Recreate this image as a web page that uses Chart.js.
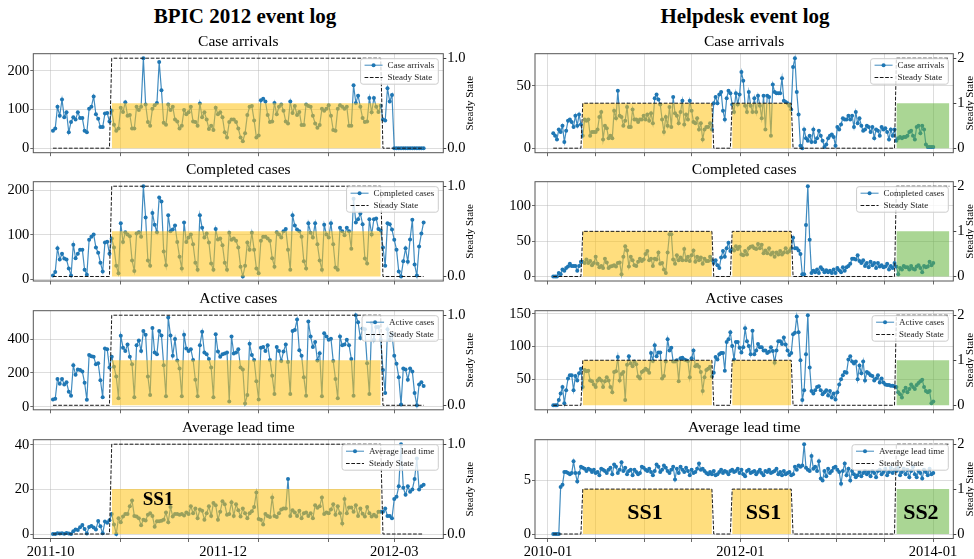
<!DOCTYPE html>
<html>
<head>
<meta charset="utf-8">
<script src="https://cdn.jsdelivr.net/npm/chart.js@4.4.1/dist/chart.umd.min.js"></script>
<style>
  body { margin: 0; background: #fff; width: 974px; height: 559px; position: relative; overflow: hidden;
         font-family: "Liberation Serif", "Times New Roman", serif; }
  canvas { position: absolute; }
  .hdr, .ttl { position: absolute; transform: translate(-50%, -50%); white-space: nowrap; line-height: 1; color: #000; z-index: 2; }
  .hdr { font-size: 21px; font-weight: bold; }
  .ttl { font-size: 15.5px; }
</style>
</head>
<body>
<div class="hdr" style="left:245px;top:16px">BPIC 2012 event log</div>
<div class="hdr" style="left:745px;top:16px">Helpdesk event log</div>
<script>
// ---- BPIC 2012: daily values, first point 2011-10-02 (day 1, day 0 = 2011-10-01) ----
const bpicFirstDay = 1;
const bpicStep = 1;

const bpicArrivals = [
  45, 51, 107, 84, 126, 80, 93, 41, 68, 80, 74, 93, 78, 78, 45, 41, 102, 107, 134, 88, 76, 55, 55, 90, 91, 69,
  97, 61, 45, 51, 105, 94, 119, 84, 86, 51,
  51, 107, 99, 107, 233, 113, 68, 58, 102, 111,
  117, 223, 150, 66, 61, 113, 99, 107, 74, 69,
  51, 58, 99, 88, 93, 107, 69, 68, 58, 116,
  80, 93, 74, 50, 58, 47, 105, 88, 93, 80,
  41, 28, 68, 74, 74, 68, 51, 28, 18, 39,
  86, 107, 109, 72, 28, 33, 124, 128, 121, 86,
  68, 69, 117, 88, 107, 113, 97, 69, 64, 121,
  91, 109, 86, 94, 60, 60, 113, 109, 107, 84,
  64, 53, 60, 102, 97, 102, 111, 84, 47, 45,
  102, 111, 107, 102, 107, 58, 58, 163, 117, 136,
  107, 78, 68, 69, 130, 93, 130, 107, 94, 110,
  74, 72, 155, 121, 138, 0, 0, 0, 0, 0, 0, 0, 0, 0, 0, 0, 0, 0, 0
];

const bpicCompleted = [
  9, 17, 70, 45, 58, 47, 45, 25, 9, 78, 48, 58, 67, 67, 22, 11, 89, 96, 101, 72, 60, 38, 18, 83, 85, 58,
  92, 72, 31, 14, 126, 84, 106, 101, 97, 43,
  19, 103, 106, 96, 209, 139, 43, 31, 149, 123,
  106, 184, 175, 63, 32, 144, 108, 112, 121, 84,
  51, 25, 128, 84, 94, 101, 79, 38, 22, 144,
  116, 94, 103, 83, 36, 22, 113, 90, 92, 77,
  38, 22, 105, 89, 92, 87, 72, 29, 7, 31,
  83, 67, 105, 67, 25, 14, 87, 96, 96, 92,
  87, 48, 29, 106, 101, 94, 108, 113, 67, 22,
  144, 121, 112, 108, 96, 41, 25, 126, 105, 94,
  126, 79, 43, 22, 123, 101, 94, 126, 79, 27,
  22, 116, 108, 99, 116, 108, 69, 181, 128, 135,
  148, 124, 47, 36, 135, 101, 135, 137, 113, 110,
  72, 31, 126, 124, 112, 89, 67, 18, 7, 41, 70, 40, 90, 134, 34, 9, 74, 103, 128
];

const bpicActive = [
  43, 47, 164, 136, 164, 132, 145, 89, 66, 245, 189, 221, 217, 208, 142, 42, 306, 298, 296, 251, 258, 157, 57, 345, 340, 232,
  296, 236, 179, 51, 419, 349, 330, 368, 296, 251,
  57, 364, 391, 330, 447, 425, 179, 70, 466, 321,
  311, 447, 421, 245, 62, 528, 421, 302, 400, 274,
  226, 62, 425, 345, 330, 340, 277, 160, 62, 364,
  443, 321, 311, 283, 232, 57, 428, 326, 296, 311,
  315, 321, 32, 415, 315, 321, 340, 232, 221, 19,
  70, 372, 306, 277, 151, 43, 349, 353, 330, 364,
  277, 183, 75, 353, 330, 270, 326, 368, 264, 75,
  447, 453, 515, 334, 302, 175, 66, 504, 415, 353,
  383, 274, 317, 62, 434, 415, 396, 402, 270, 164,
  51, 415, 364, 368, 396, 364, 283, 66, 541, 500,
  406, 462, 458, 258, 75, 496, 396, 472, 472, 396,
  217, 81, 458, 396, 428, 302, 255, 175, 13, 226, 221, 160, 226, 208, 81, 9, 132, 145, 123
];

const bpicLeadTime = [
  0, 0, 0.3, 0.2, 0.3, 0.1, 0.4, 0.2, 0, 1.2, 2, 1.8, 3, 4, 2.2, 0.2, 3.2, 3.6, 2.9, 2, 5.8, 3.5, 0.3, 5.6, 5, 6.2,
  9, 4.3, 0, 7.1, 5.3, 7.9, 9, 9, 12.4, 15,
  8.1, 7.9, 7.1, 3.9, 6.4, 6.1, 8.6, 9.3, 8.1, 3.3,
  5.7, 5.7, 6, 6.4, 9.6, 5.3, 12.1, 7.9, 9, 9,
  8.6, 9, 8.3, 9.6, 9, 12.4, 9.3, 11.4, 7.1, 11,
  10.4, 6.4, 9.3, 12.4, 8.1, 13.9, 12.9, 6.4, 10, 14.7,
  13.3, 8.6, 9, 14.3, 8.1, 13.3, 10.7, 7.9, 11.4, 9.3,
  7.1, 9.3, 10.2, 12.1, 18.6, 6.7, 6.4, 4.3, 9, 8.1,
  7.6, 16.4, 8.1, 7.6, 9.3, 11, 11.4, 11.4, 24.7, 8.1,
  10.7, 9.6, 8.1, 10.4, 7.1, 9.3, 9.6, 8.1, 9.3, 7.1,
  12.9, 11.8, 12.4, 16.4, 9, 9.6, 9.3, 11, 13.3, 8.6,
  12.4, 9.3, 4.7, 15.7, 9.3, 11.9, 11.9, 10, 12.9, 8.1,
  11.4, 9.1, 7.9, 12.1, 9.3, 7.9, 8.6, 7.9, 10, 10,
  10, 11.4, 8.1, 8.1, 7.1, 15.7, 16.7, 21.4, 40.3, 20.7, 17.6, 21.4, 19, 20, 24.7, 33.9, 20, 21.4, 22.1
];

// steady-state periods (day numbers) and level
const bpicSsFrom = [27];
const bpicSsTo = [146];
const bpicSsLevel = [1];
const bpicSsColor = ['ss1'];
const bpicSsLabelDay = [47.5];
const bpicSsLabelLevel = [0.38];
const bpicSsLabelText = ['SS1'];

// month gridlines and bottom labels
const bpicGridDays = [0, 31, 61, 92, 123, 152];
const bpicLabelDays = [0, 76.3, 152];
const bpicLabelText = ['2011-10', '2011-12', '2012-03'];

// ---- Helpdesk: weekly values, first point day 20 (day 0 = 2010-01-01) ----
const helpFirstDay = 20;
const helpStep = 7;

const helpArrivals = [
  12, 10, 7, 15, 13, 18, 5, 14, 22, 23, 21, 17, 26, 18, 27, 19,
  10, 23, 22, 23, 10, 13, 13, 13, 15, 25,
  29, 7, 18, 16, 8, 10, 8, 30, 24, 46,
  26, 25, 18, 22, 33, 17, 17, 31, 23, 23,
  21, 23, 23, 26, 23, 27, 22, 28, 20, 40,
  43, 39, 35, 23, 13, 25, 18, 33, 17, 41,
  28, 26, 20, 29, 38, 19, 27, 23, 38, 30,
  21, 20, 24, 15, 20, 7, 15, 17, 17, 20,
  15,
  36, 41, 36, 43, 45, 30, 23, 40, 46, 44,
  35, 29, 44, 35, 43, 61, 54, 34, 29, 45,
  34, 29, 40, 29, 42, 34, 24, 42, 15, 42,
  41, 10, 51, 45, 44, 44, 44, 56, 38, 37,
  36, 34, 31,
  65, 72, 45, 27, 2, 0, 15, 8, 6, 10,
  5, 15, 5, 8, 14, 10, 6, 1, 3, 8,
  10, 11, 9, 2, 17, 15, 19, 24, 23, 23,
  26, 23, 26, 17, 29, 20, 24, 18, 14, 15,
  18, 17, 13, 17, 8, 15, 14, 10, 17, 15,
  16, 13, 7, 15, 10, 15,
  6, 8, 9, 8, 9, 9, 10, 13, 14, 10,
  7, 17, 18, 12, 18, 15, 3, 1, 1, 1, 1
];

const helpCompleted = [
  0, 0, 0, 5, 3, 10, 8, 12, 14, 18, 15, 15, 15, 8, 15, 21,
  21, 19, 24, 19, 22, 16, 19, 28, 18, 13,
  15, 12, 25, 20, 12, 14, 15, 16, 14, 19,
  20, 3, 28, 43, 37, 14, 28, 23, 16, 15,
  21, 25, 22, 24, 32, 36, 23, 25, 15, 25,
  24, 34, 18, 19, 10, 5, 34, 60, 60, 24,
  18, 30, 23, 27, 23, 39, 23, 28, 22, 30,
  37, 21, 28, 23, 27, 18, 25, 22, 22, 28,
  23,
  19, 23, 16, 12, 27, 36, 28, 40, 48, 36,
  39, 37, 43, 39, 42, 31, 30, 36, 31, 40,
  42, 43, 40, 39, 46, 40, 45, 33, 37, 33,
  40, 31, 34, 28, 34, 31, 36, 31, 34, 40,
  34, 36, 40,
  55, 40, 40, 37, 32, 3, 3, 73, 128, 52,
  5, 8, 6, 10, 5, 13, 10, 6, 9, 6,
  8, 5, 10, 5, 12, 9, 6, 13, 8, 13,
  15, 18, 25, 25, 24, 30, 22, 19, 23, 15,
  19, 13, 21, 16, 19, 12, 19, 14, 16, 13,
  14, 18, 10, 15, 12, 19,
  14, 3, 12, 10, 15, 13, 13, 10, 15, 11,
  10, 14, 16, 12, 6, 15, 13, 14, 21, 16, 19
];

const helpActive = [
  10, 10, 10, 18, 28, 38, 13, 33, 51, 56, 56, 33, 55, 48, 59, 66,
  38, 64, 62, 63, 48, 47, 42, 38, 48, 51,
  48, 38, 47, 53, 48, 38, 30, 61, 62, 84,
  48, 58, 61, 18, 72, 85, 74, 70, 77, 73,
  54, 51, 61, 63, 66, 64, 60, 90, 78, 102,
  85, 91, 91, 51, 55, 77, 111, 94, 98, 77,
  77, 79, 47, 82, 83, 80, 79, 78, 53, 82,
  94, 70, 72, 69, 61, 32, 53, 64, 66, 69,
  54,
  60, 84, 80, 88, 90, 90, 63, 107, 111, 122,
  101, 80, 107, 107, 98, 91, 99, 128, 108, 101,
  88, 124, 88, 94, 104, 99, 99, 94, 94, 90,
  92, 99, 93, 75, 94, 108, 108, 104, 114, 103,
  94, 87, 90,
  119, 121, 146, 122, 79, 18, 33, 88, 148, 68,
  32, 28, 33, 38, 39, 33, 27, 30, 33, 25,
  32, 22, 28, 19, 30, 42, 50, 56, 61, 60,
  80, 85, 77, 74, 77, 50, 71, 59, 77, 48,
  61, 59, 56, 55, 48, 51, 56, 45, 51, 45,
  42, 41, 41, 40, 40, 39,
  38, 30, 27, 22, 32, 37, 30, 35, 42, 38,
  35, 41, 44, 47, 49, 38, 32, 30, 32, 13, 16
];

const helpLeadTime = [
  0, 0, 0, 0, 4.4, 4.6, 5.8, 5.8, 5.7, 5.6, 5.7, 6.8, 5.7, 4.9, 5.7, 6.3,
  6.2, 6.1, 5.9, 6.1, 6.0, 5.8, 6.0, 5.7, 5.8, 5.5,
  6.1, 6.0, 5.9, 5.7, 6.0, 6.2, 5.6, 6.5, 6.3, 5.7,
  6.0, 6.7, 5.9, 6.2, 5.6, 5.9, 6.0, 5.5, 6.0, 5.8,
  5.6, 5.7, 6.3, 6.2, 6.0, 5.9, 6.1, 5.8, 5.5, 5.9,
  6.5, 6.3, 5.8, 6.0, 6.4, 6.2, 5.9, 5.7, 6.0, 6.3,
  5.1, 6.1, 5.7, 6.3, 6.0, 5.8, 6.2, 5.9, 5.5, 6.0,
  5.7, 5.8, 6.1, 6.6, 6.0, 6.1, 5.9, 5.7, 5.6, 5.8,
  5.6,
  5.9, 5.5, 5.6, 5.8, 6.0, 5.7, 5.9, 5.8, 5.6, 5.9,
  6.0, 5.8, 5.9, 6.1, 5.7, 6.0, 5.6, 5.4, 5.9, 6.0,
  5.7, 5.8, 5.9, 5.6, 5.8, 6.0, 5.7, 5.5, 5.9, 5.8,
  6.0, 5.7, 5.8, 5.9, 6.1, 5.6, 5.8, 5.5, 5.9, 5.6,
  5.7, 5.8, 5.5,
  5.6, 6.3, 6.0, 6.4, 6.3, 6.4, 8.4, 6.2, 6.0, 5.9,
  7.3, 6.1, 6.3, 5.9, 6.8, 5.2, 5.0, 5.9, 5.4, 6.1,
  5.7, 5.9, 6.2, 6.3, 6.0, 5.8, 4.7, 5.9, 6.6, 5.5,
  6.1, 5.0, 5.9, 5.6, 5.3, 5.5, 5.8, 5.4, 5.7, 5.9,
  5.6, 5.8, 5.4, 5.9, 5.7, 5.3, 5.9, 6.0, 5.6, 5.8,
  6.1, 5.5, 5.8, 6.2, 5.7, 6.0,
  5.9, 6.2, 5.5, 5.8, 6.1, 5.6, 6.0, 5.3, 5.9, 6.3,
  5.6, 5.3, 5.9, 5.7, 5.2, 6.0, 5.8, 5.5, 6.1, 5.6, 5.7
];

const helpSsFrom = [132, 699, 1322];
const helpSsTo = [622, 923, 1523];
const helpSsLevel = [1, 1, 2];
const helpSsColor = ['ss1', 'ss1', 'ss2'];
const helpSsLabelDay = [368, 818, 1415];
const helpSsLabelLevel = [0.46, 0.46, 0.46];
const helpSsLabelText = ['SS1', 'SS1', 'SS2'];

// half-year gridlines and bottom labels
const helpGridDays = [0, 181, 365, 546, 730, 912, 1096, 1277, 1461];
const helpLabelDays = [0, 730, 1461];
const helpLabelText = ['2010-01', '2012-01', '2014-01'];

const titles = ['Case arrivals', 'Completed cases', 'Active cases', 'Average lead time'];
const bpicYTicks = [[0, 100, 200], [0, 100, 200], [0, 200, 400], [0, 20, 40]];
const helpYTicks = [[0, 50], [0, 50, 100], [50, 100, 150], [0, 5]];

// ---- layout / style ----
const FRAME_TOPS = [49.5, 177.8, 306.6, 435.3];
const FRAME_H = 103.2;
const GRID = 'rgba(176,176,176,0.55)';
const BLUE = '#1f77b4';
const LINE = 'rgba(31,119,180,0.85)';
const FILLS = { ss1: 'rgba(255,195,20,0.55)', ss2: 'rgba(100,180,60,0.55)' };
const FONT = '"Liberation Serif", "Times New Roman", serif';

Chart.defaults.font.family = FONT;
Chart.defaults.color = '#000';

const COLS = {
  bpic: {
    left: 33.3, right: 443.3, canvasLeft: 0, canvasRight: 487, xMin: -7.7, xMax: 173.7,
    firstDay: bpicFirstDay, step: bpicStep,
    series: [bpicArrivals, bpicCompleted, bpicActive, bpicLeadTime], yTicks: bpicYTicks,
    ssFrom: bpicSsFrom, ssTo: bpicSsTo, ssLevel: bpicSsLevel, ssColor: bpicSsColor,
    lblDay: bpicSsLabelDay, lblLevel: bpicSsLabelLevel, lblText: bpicSsLabelText, lblSize: 19,
    gridDays: bpicGridDays, labelDays: bpicLabelDays, labelText: bpicLabelText,
    y2Fmt: v => v.toFixed(1), ssTitleX: 470
  },
  help: {
    left: 535, right: 953.3, canvasLeft: 487, canvasRight: 974, xMin: -49.3, xMax: 1538,
    firstDay: helpFirstDay, step: helpStep,
    series: [helpArrivals, helpCompleted, helpActive, helpLeadTime], yTicks: helpYTicks,
    ssFrom: helpSsFrom, ssTo: helpSsTo, ssLevel: helpSsLevel, ssColor: helpSsColor,
    lblDay: helpSsLabelDay, lblLevel: helpSsLabelLevel, lblText: helpSsLabelText, lblSize: 22,
    gridDays: helpGridDays, labelDays: helpLabelDays, labelText: helpLabelText,
    y2Fmt: v => String(v), ssTitleX: 970
  }
};

function steadyPoints(col, lastX) {
  const pts = [{ x: col.firstDay, y: 0 }];
  col.ssFrom.forEach((f, i) => {
    pts.push({ x: f - col.step, y: 0 }, { x: f, y: col.ssLevel[i] }, { x: col.ssTo[i], y: col.ssLevel[i] });
    if (col.ssTo[i] + col.step <= lastX) pts.push({ x: col.ssTo[i] + col.step, y: 0 });
  });
  if (pts[pts.length - 1].y === 0) pts.push({ x: lastX, y: 0 });
  return pts;
}

function roundRect(ctx, x, y, w, h, r) {
  ctx.beginPath();
  ctx.moveTo(x + r, y);
  ctx.lineTo(x + w - r, y);
  ctx.arcTo(x + w, y, x + w, y + r, r);
  ctx.lineTo(x + w, y + h - r);
  ctx.arcTo(x + w, y + h, x + w - r, y + h, r);
  ctx.lineTo(x + r, y + h);
  ctx.arcTo(x, y + h, x, y + h - r, r);
  ctx.lineTo(x, y + r);
  ctx.arcTo(x, y, x + r, y, r);
  ctx.closePath();
}

function buildPanel(key, row) {
  const col = COLS[key];
  const values = col.series[row];
  const title = titles[row];
  const frameTop = FRAME_TOPS[row];
  const cTop = Math.floor(frameTop) - 5;
  const cBottom = row === 3 ? 559 : Math.ceil(frameTop + FRAME_H + 20);
  const cH = cBottom - cTop;
  const cW = col.canvasRight - col.canvasLeft;
  const padTop = frameTop - cTop;
  const xH = cH - padTop - FRAME_H;
  const yW = col.left - col.canvasLeft;
  const y2W = col.canvasRight - col.right;

  const canvas = document.createElement('canvas');
  canvas.width = cW;
  canvas.height = cH;
  canvas.style.left = col.canvasLeft + 'px';
  canvas.style.top = cTop + 'px';
  canvas.style.width = cW + 'px';
  canvas.style.height = cH + 'px';
  document.body.appendChild(canvas);

  const t = document.createElement('div');
  t.className = 'ttl';
  t.textContent = title;
  t.style.left = ((col.left + col.right) / 2) + 'px';
  t.style.top = (frameTop - 8.5) + 'px';
  document.body.appendChild(t);

  const pts = values.map((v, i) => ({ x: col.firstDay + i * col.step, y: v }));
  const lastX = pts[pts.length - 1].x;
  const lo = Math.min(...values), hi = Math.max(...values);
  const pad = 0.05 * (hi - lo);
  const L = Math.max(...col.ssLevel);
  const y2Ticks = L === 2 ? [0, 1, 2] : [0, 1];

  const datasets = [{
    label: title, data: pts, yAxisID: 'y',
    borderColor: LINE, borderWidth: 1.2,
    pointRadius: 2, pointBackgroundColor: BLUE, pointBorderWidth: 0, pointHoverRadius: 2,
    fill: false, order: 2
  }];
  col.ssFrom.forEach((f, i) => {
    datasets.push({
      label: 'fill', data: [{ x: f, y: L / 2 }, { x: col.ssTo[i], y: L / 2 }], yAxisID: 'y2',
      borderColor: 'rgba(0,0,0,0)', borderWidth: 1, pointRadius: 0,
      backgroundColor: FILLS[col.ssColor[i]], fill: { value: 0 }, order: 1
    });
  });
  datasets.push({
    label: 'Steady State', data: steadyPoints(col, lastX), yAxisID: 'y2',
    borderColor: '#1a1a1a', borderWidth: 1, borderDash: [3.7, 1.6], pointRadius: 0,
    fill: false, order: 0
  });

  const tickDays = [...new Set([...col.gridDays, ...col.labelDays])].sort((a, b) => a - b);
  const onGrid = c => c.tick && col.gridDays.includes(c.tick.value);

  const decor = {
    id: 'decor',
    afterDatasetsDraw(chart) {
      const { ctx, chartArea: a, scales } = chart;
      ctx.save();
      // frame
      ctx.strokeStyle = '#555';
      ctx.lineWidth = 1;
      ctx.strokeRect(a.left, a.top, a.right - a.left, a.bottom - a.top);

      // steady-state labels in the last row
      if (row === 3) {
        ctx.fillStyle = '#000';
        ctx.font = 'bold ' + col.lblSize + 'px ' + FONT;
        ctx.textAlign = 'center';
        ctx.textBaseline = 'middle';
        col.lblText.forEach((txt, i) => {
          ctx.fillText(txt, scales.x.getPixelForValue(col.lblDay[i]), scales.y2.getPixelForValue(col.lblLevel[i]));
        });
      }

      // legend
      ctx.font = '9px ' + FONT;
      const tw = Math.max(ctx.measureText(title).width, ctx.measureText('Steady State').width);
      const bw = 27 + tw + 4, bh = 25.5;
      const bx = a.right - 5 - bw, by = a.top + 5;
      roundRect(ctx, bx, by, bw, bh, 2.5);
      ctx.fillStyle = 'rgba(255,255,255,0.8)';
      ctx.fill();
      ctx.strokeStyle = '#cccccc';
      ctx.lineWidth = 1;
      ctx.stroke();
      const r1 = by + 6.5, r2 = by + 18.8;
      ctx.strokeStyle = LINE;
      ctx.beginPath(); ctx.moveTo(bx + 4, r1); ctx.lineTo(bx + 22, r1); ctx.stroke();
      ctx.fillStyle = BLUE;
      ctx.beginPath(); ctx.arc(bx + 13, r1, 2, 0, Math.PI * 2); ctx.fill();
      ctx.strokeStyle = '#1a1a1a';
      ctx.setLineDash([3.7, 1.6]);
      ctx.beginPath(); ctx.moveTo(bx + 4, r2); ctx.lineTo(bx + 22, r2); ctx.stroke();
      ctx.setLineDash([]);
      ctx.fillStyle = '#222';
      ctx.textAlign = 'left';
      ctx.textBaseline = 'middle';
      ctx.fillText(title, bx + 27, r1 + 0.5);
      ctx.fillText('Steady State', bx + 27, r2 + 0.5);

      // right axis title
      ctx.save();
      ctx.translate(col.ssTitleX - col.canvasLeft, (a.top + a.bottom) / 2);
      ctx.rotate(-Math.PI / 2);
      ctx.font = '11px ' + FONT;
      ctx.fillStyle = '#000';
      ctx.textAlign = 'center';
      ctx.textBaseline = 'middle';
      ctx.fillText('Steady State', 0, 0);
      ctx.restore();
      ctx.restore();
    }
  };

  new Chart(canvas, {
    type: 'line',
    data: { datasets },
    options: {
      responsive: false,
      animation: false,
      devicePixelRatio: 1,
      layout: { padding: { top: padTop, bottom: 0, left: 0, right: 0 } },
      plugins: { legend: { display: false }, tooltip: { enabled: false } },
      elements: { line: { tension: 0 } },
      scales: {
        x: {
          type: 'linear', position: 'bottom', min: col.xMin, max: col.xMax,
          afterBuildTicks: s => { s.ticks = tickDays.map(v => ({ value: v })); },
          afterFit: s => { s.height = xH; },
          ticks: {
            autoSkip: false, maxRotation: 0, minRotation: 0, padding: 1, font: { size: 14.5 }, color: '#000',
            callback: v => {
              if (row !== 3) return '';
              const i = col.labelDays.indexOf(v);
              return i >= 0 ? col.labelText[i] : '';
            }
          },
          grid: {
            lineWidth: 0.8, tickLength: 3.5,
            color: c => onGrid(c) ? GRID : 'rgba(0,0,0,0)',
            tickColor: c => onGrid(c) ? '#444' : 'rgba(0,0,0,0)'
          },
          border: { display: false }
        },
        y: {
          position: 'left', min: lo - pad, max: hi + pad,
          afterBuildTicks: s => { s.ticks = col.yTicks[row].map(v => ({ value: v })); },
          afterFit: s => { s.width = yW; },
          ticks: { padding: 1, font: { size: 14.5 }, color: '#000', callback: v => String(v) },
          grid: { color: GRID, lineWidth: 0.8, tickLength: 3, tickColor: '#444' },
          border: { display: false }
        },
        y2: {
          position: 'right', min: -0.05 * L, max: 1.05 * L,
          afterBuildTicks: s => { s.ticks = y2Ticks.map(v => ({ value: v })); },
          afterFit: s => { s.width = y2W; },
          ticks: { padding: 1, font: { size: 14.5 }, color: '#000', callback: v => col.y2Fmt(v) },
          grid: { drawOnChartArea: false, tickLength: 3, color: '#444' },
          border: { display: false }
        }
      }
    },
    plugins: [decor]
  });
}

['bpic', 'help'].forEach(key => {
  for (let row = 0; row < 4; row++) buildPanel(key, row);
});
</script>
</body>
</html>
